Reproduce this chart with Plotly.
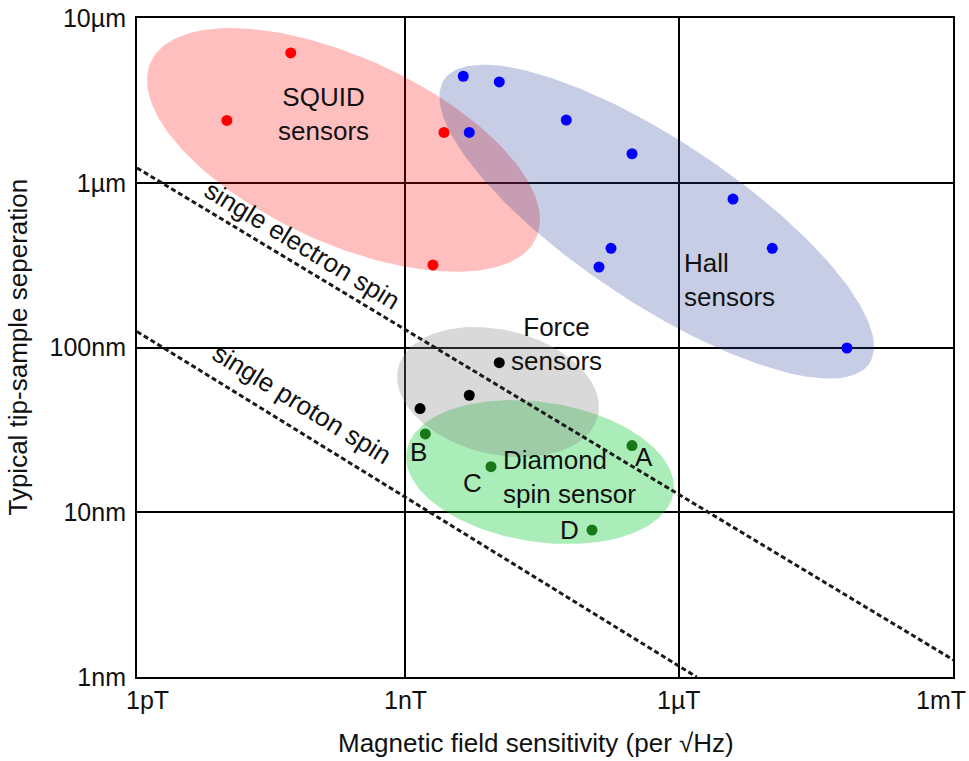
import numpy as np
import plotly.graph_objects as go

# ---- data (x: magnetic field sensitivity in T/sqrt(Hz), y: tip-sample separation in m) ----
squid_x = [5.60e-11, 1.12e-11, 2.67e-9, 2.02e-9]
squid_y = [6.14e-6, 2.39e-6, 2.02e-6, 3.17e-7]

hall_x = [4.34e-9, 1.076e-8, 5.83e-8, 5.05e-9, 3.055e-7, 1.80e-7, 3.90e-6, 1.05e-5, 1.33e-7, 6.90e-5]
hall_y = [4.43e-6, 4.09e-6, 2.40e-6, 2.02e-6, 1.50e-6, 4.0e-7, 7.96e-7, 4.0e-7, 3.08e-7, 9.93e-8]

force_x = [1.076e-8, 5.05e-9, 1.46e-9]
force_y = [8.09e-8, 5.13e-8, 4.26e-8]

diamond_labels = ["A", "B", "C", "D"]
diamond_x = [3.055e-7, 1.667e-9, 8.73e-9, 1.114e-7]
diamond_y = [2.54e-8, 2.99e-8, 1.89e-8, 7.80e-9]

electron_line_x = [1.16e-12, 1.01e-3]
electron_line_y = [1.23e-6, 1.27e-9]
proton_line_x = [1.16e-12, 1.56e-6]
proton_line_y = [1.25e-7, 1e-9]

x_tickvals = [1e-12, 1e-9, 1e-6, 1e-3]
x_ticktext = ["1pT", "1nT", "1µT", "1mT"]
y_tickvals = [1e-9, 1e-8, 1e-7, 1e-6, 1e-5]
y_ticktext = ["1nm", "10nm", "100nm", "1µm", "10µm"]

X_RANGE = [-11.935, -3]
Y_RANGE = [-9, -5]

# ---- group regions: centre (data units) and semi-axis vectors in decades (log10 space) ----
regions = [
    dict(cx=10**-9.674, cy=10**-5.801, M=(2.110, -0.535), m=(-0.422, -0.511), fill="rgba(255,0,0,0.25)"),
    dict(cx=10**-6.245, cy=10**-6.236, M=(2.328, -0.861), m=(-0.491, -0.408), fill="rgba(40,60,150,0.26)"),
    dict(cx=10**-7.522, cy=10**-7.756, M=(1.462, -0.124), m=(-0.1157, -0.419), fill="rgba(0,200,40,0.33)"),
    dict(cx=10**-7.982, cy=10**-7.270, M=(1.094, -0.1456), m=(-0.159, -0.367), fill="rgba(128,128,128,0.30)"),
]

FONT = "Arial, Liberation Sans, sans-serif"
TXT = "#111111"
fig = go.Figure()

t = np.linspace(0, 2 * np.pi, 200)
for r in regions:
    lx = np.log10(r["cx"]) + np.cos(t) * r["M"][0] + np.sin(t) * r["m"][0]
    ly = np.log10(r["cy"]) + np.cos(t) * r["M"][1] + np.sin(t) * r["m"][1]
    fig.add_trace(go.Scatter(x=10**lx, y=10**ly, mode="lines", fill="toself",
                             fillcolor=r["fill"], line=dict(width=0), hoverinfo="skip"))

for lx, ly in [(electron_line_x, electron_line_y), (proton_line_x, proton_line_y)]:
    fig.add_trace(go.Scatter(x=lx, y=ly, mode="lines",
                             line=dict(color="#1a1a1a", width=3, dash="5px,3px")))

fig.add_trace(go.Scatter(x=squid_x, y=squid_y, mode="markers", marker=dict(color="#ff0000", size=11)))
fig.add_trace(go.Scatter(x=hall_x, y=hall_y, mode="markers", marker=dict(color="#0000ff", size=11)))
fig.add_trace(go.Scatter(x=force_x, y=force_y, mode="markers", marker=dict(color="#000000", size=11)))
fig.add_trace(go.Scatter(x=diamond_x, y=diamond_y, mode="markers", marker=dict(color="#187818", size=11)))

annotations = []
def txt(text, lx, ly, xanchor="center", align="center", angle=0, size=26):
    annotations.append(dict(text=text, x=lx, y=ly, xref="x", yref="y", showarrow=False,
                            xanchor=xanchor, yanchor="middle", align=align, textangle=angle,
                            font=dict(family=FONT, size=size, color=TXT)))

txt("SQUID<br>sensors", -9.898, -5.583)
txt("Hall<br>sensors", -5.968, -6.593, xanchor="left", align="left")
txt("Force<br>sensors", -7.347, -6.979)
txt("Diamond<br>spin sensor", -7.950, -7.789, xanchor="left", align="left")
letter_pos = {"A": (-6.384, -7.665), "B": (-8.858, -7.634), "C": (-8.256, -7.822), "D": (-7.194, -8.108)}
for lab in diamond_labels:
    txt(lab, *letter_pos[lab])
txt("single electron spin", -10.128, -6.378, angle=31.2, size=26)
txt("single proton spin", -10.128, -7.343, angle=31.6, size=26)

# x tick labels (end labels pulled inwards as in the reference)
x_label_shift = [16, 0, 0, -12]
for v, s, sh in zip(x_tickvals, x_ticktext, x_label_shift):
    px = (np.log10(v) - X_RANGE[0]) / (X_RANGE[1] - X_RANGE[0])
    annotations.append(dict(text=s, x=px, y=0, xref="paper", yref="paper", showarrow=False,
                            xanchor="center", yanchor="middle", yshift=-23, xshift=sh,
                            font=dict(family=FONT, size=25, color=TXT)))

# axis titles
annotations.append(dict(text="Magnetic field sensitivity (per √Hz)", x=0.489, y=-0.1002,
                        xref="paper", yref="paper", showarrow=False, xanchor="center", yanchor="middle",
                        font=dict(family=FONT, size=26, color=TXT)))
annotations.append(dict(text="Typical tip-sample seperation", x=-0.147, y=0.5,
                        xref="paper", yref="paper", showarrow=False, xanchor="center", yanchor="middle",
                        textangle=-90, font=dict(family=FONT, size=26, color=TXT)))

axis_common = dict(type="log", showgrid=True, gridcolor="black", gridwidth=2,
                   showline=True, linecolor="black", linewidth=2, mirror=True,
                   ticks="", zeroline=False, automargin=False,
                   tickfont=dict(family=FONT, size=25, color=TXT))

fig.update_layout(
    width=969, height=761, showlegend=False,
    plot_bgcolor="white", paper_bgcolor="white",
    margin=dict(l=137, r=16, t=18, b=84),
    annotations=annotations,
    xaxis=dict(range=X_RANGE, tickvals=x_tickvals, showticklabels=False, **axis_common),
    yaxis=dict(range=Y_RANGE, tickvals=y_tickvals, ticktext=y_ticktext,
               ticklabelstandoff=4, **axis_common),
)

fig.write_html("out.html")
